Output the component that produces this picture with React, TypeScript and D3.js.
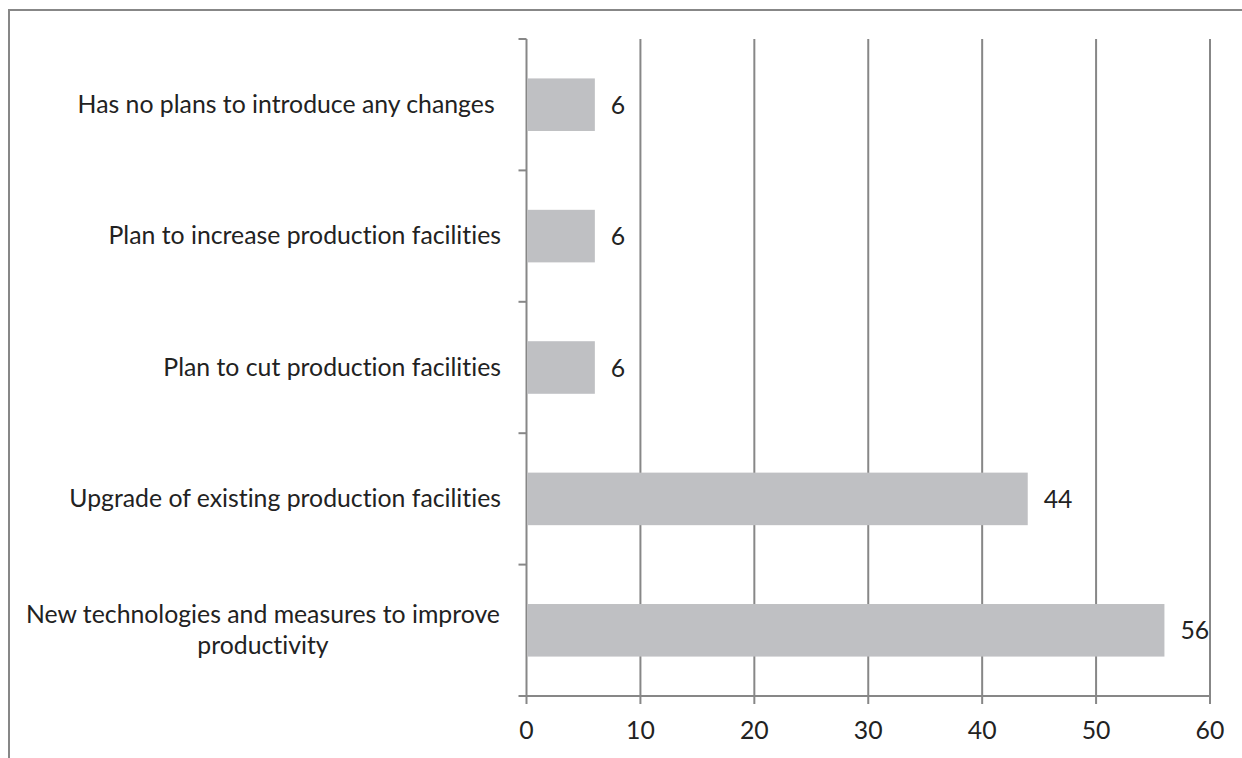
import React from "react";
import * as d3 from "d3";

// Survey answers, listed top to bottom as shown on the chart
const categories: string[] = [
  "Has no plans to introduce any changes ",
  "Plan to increase production facilities",
  "Plan to cut production facilities",
  "Upgrade of existing production facilities",
  "New technologies and measures to improve productivity",
];
// Wrapped label lines for each category
const categoryLines: string[][] = [
  ["Has no plans to introduce any changes "],
  ["Plan to increase production facilities"],
  ["Plan to cut production facilities"],
  ["Upgrade of existing production facilities"],
  ["New technologies and measures to improve", "productivity"],
];
const values: number[] = [6, 6, 6, 44, 56];
const xTicks: number[] = [0, 10, 20, 30, 40, 50, 60];

const W = 1242;
const H = 758;
const FONT = "Lato, 'Open Sans', 'DejaVu Sans', sans-serif";
const FS = 24.8;
const TEXT = "#222222";
const LINE = "#878787";
const BAR = "#bfc0c3";

export default function App() {
  const plot = { left: 526.5, right: 1210, top: 39, bottom: 696 };
  const x = d3.scaleLinear().domain([0, 60]).range([plot.left, plot.right]);
  const y = d3
    .scaleBand<string>()
    .domain(categories)
    .range([plot.top, plot.bottom])
    .paddingInner(0.6)
    .paddingOuter(0.3);
  const step = y.step();
  const catEdges = d3.range(categories.length + 1).map((i) => plot.top + i * step);
  const lineH = 31.5;

  return (
    <svg
      width={W}
      height={H}
      style={{
        position: "absolute",
        left: 0,
        top: 0,
        display: "block",
        background: "#fff",
        fontVariantLigatures: "none",
        fontKerning: "normal",
      }}
      fontFamily={FONT}
    >
      {/* frame */}
      <path d={`M9,${H} V10 H${W}`} fill="none" stroke={LINE} strokeWidth={2} />

      {/* vertical gridlines with bottom ticks */}
      {xTicks.map((t) => (
        <line key={"g" + t} x1={x(t)} x2={x(t)} y1={plot.top} y2={plot.bottom + 8} stroke={LINE} strokeWidth={2} />
      ))}

      {/* category axis ticks */}
      {catEdges.map((e, i) => (
        <line key={"c" + i} x1={plot.left - 8} x2={plot.left} y1={e} y2={e} stroke={LINE} strokeWidth={2} />
      ))}
      {/* value axis line */}
      <line x1={plot.left} x2={plot.right} y1={plot.bottom} y2={plot.bottom} stroke={LINE} strokeWidth={2} />

      {/* bars */}
      {categories.map((c, i) => (
        <rect
          key={"b" + i}
          x={x(0) + 1}
          y={y(c)!}
          width={x(values[i]) - x(0) - 1}
          height={y.bandwidth()}
          fill={BAR}
        />
      ))}

      {/* value labels */}
      {categories.map((c, i) => (
        <text
          key={"v" + i}
          x={x(values[i]) + 16}
          y={y(c)! + y.bandwidth() / 2 + 9}
          fontSize={FS}
          fill={TEXT}
        >
          {values[i]}
        </text>
      ))}

      {/* category labels */}
      {categories.map((c, i) => {
        const lines = categoryLines[i];
        const cy = y(c)! + y.bandwidth() / 2;
        const multi = lines.length > 1;
        const anchorX = multi ? 263 : 501;
        return (
          <text
            key={"l" + i}
            x={anchorX}
            textAnchor={multi ? "middle" : "end"}
            fontSize={FS}
            fill={TEXT}
            style={{ whiteSpace: "pre" }}
          >
            {lines.map((ln, j) => (
              <tspan key={j} x={anchorX} y={cy + 8 + (j - (lines.length - 1) / 2) * lineH}>
                {ln}
              </tspan>
            ))}
          </text>
        );
      })}

      {/* value axis tick labels */}
      {xTicks.map((t) => (
        <text key={"t" + t} x={x(t)} y={739} textAnchor="middle" fontSize={FS} fill={TEXT}>
          {t}
        </text>
      ))}
    </svg>
  );
}
